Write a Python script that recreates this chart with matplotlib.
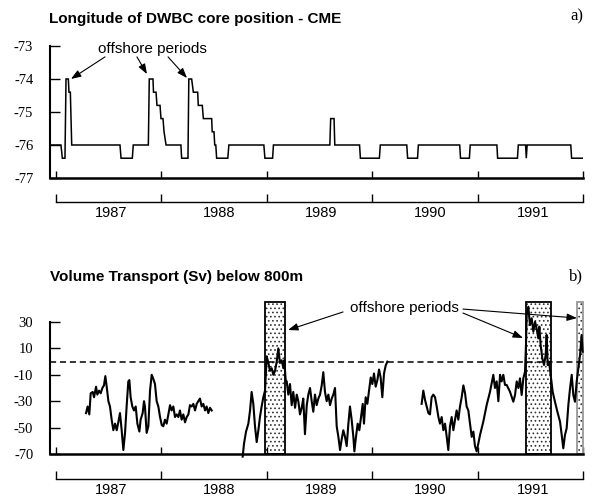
import matplotlib
matplotlib.use('Agg')
import matplotlib.pyplot as plt
import numpy as np
from matplotlib.patches import Rectangle

plt.rcParams['axes.unicode_minus'] = False
plt.rcParams['hatch.linewidth'] = 0.7

# ---------------- data ----------------
year_edges = [1987, 1988, 1989, 1990, 1991, 1992]
year_mid = [1987.52, 1988.55, 1989.52, 1990.55, 1991.53]
year_labels = ['1987', '1988', '1989', '1990', '1991']

lon_time = [1986.943, 1987.047, 1987.060, 1987.085, 1987.095, 1987.117, 1987.123, 1987.136,
            1987.149, 1987.607, 1987.617, 1987.724, 1987.733, 1987.876, 1987.885, 1987.920,
            1987.925, 1987.949, 1987.958, 1987.987, 1987.996, 1988.015, 1988.025, 1988.044,
            1988.185, 1988.192, 1988.252, 1988.260, 1988.287, 1988.303, 1988.344, 1988.350,
            1988.388, 1988.398, 1988.477, 1988.482, 1988.499, 1988.506, 1988.516, 1988.524,
            1988.630, 1988.640, 1988.972, 1988.982, 1989.055, 1989.063, 1989.598, 1989.606,
            1989.638, 1989.645, 1989.880, 1989.888, 1990.068, 1990.077, 1990.328, 1990.336,
            1990.430, 1990.438, 1990.830, 1990.838, 1990.922, 1990.930, 1991.183, 1991.190,
            1991.378, 1991.386, 1991.455, 1991.462, 1991.470, 1991.884, 1991.892, 1992.0]
lon_value = [-76.0, -76.0, -76.4, -76.4, -74.0, -74.0, -74.4, -74.4,
             -76.0, -76.0, -76.4, -76.4, -76.0, -76.0, -74.0, -74.0,
             -74.4, -74.4, -74.8, -74.8, -75.2, -75.2, -75.6, -76.0,
             -76.0, -76.4, -76.4, -74.0, -74.0, -74.4, -74.4, -74.8,
             -74.8, -75.2, -75.2, -75.6, -75.6, -76.0, -76.0, -76.4,
             -76.4, -76.0, -76.0, -76.4, -76.4, -76.0, -76.0, -75.2,
             -75.2, -76.0, -76.0, -76.4, -76.4, -76.0, -76.0, -76.4,
             -76.4, -76.0, -76.0, -76.4, -76.4, -76.0, -76.0, -76.4,
             -76.4, -76.0, -76.0, -76.4, -76.0, -76.0, -76.4, -76.4]

seg1_time = [1987.285, 1987.300, 1987.316, 1987.329, 1987.348, 1987.361, 1987.380, 1987.392,
             1987.408, 1987.424, 1987.440, 1987.455, 1987.468, 1987.481, 1987.497, 1987.512,
             1987.528, 1987.544, 1987.560, 1987.576, 1987.591, 1987.607, 1987.623, 1987.639,
             1987.655, 1987.670, 1987.686, 1987.696, 1987.708, 1987.724, 1987.740, 1987.756,
             1987.772, 1987.791, 1987.803, 1987.822, 1987.835, 1987.844, 1987.860, 1987.876,
             1987.892, 1987.908, 1987.923, 1987.939, 1987.955, 1987.971, 1987.987, 1988.003,
             1988.018, 1988.034, 1988.050, 1988.066, 1988.082, 1988.097, 1988.113, 1988.129,
             1988.145, 1988.161, 1988.176, 1988.192, 1988.208, 1988.224, 1988.240, 1988.256,
             1988.271, 1988.287, 1988.303, 1988.319, 1988.335, 1988.350, 1988.366, 1988.382,
             1988.398, 1988.414, 1988.429, 1988.445, 1988.461, 1988.477]
seg1_sv = [-39, -34, -40, -24, -23, -27, -19, -25, -22, -24,
           -20, -18, -11, -19, -30, -34, -44, -52, -47, -52,
           -46, -39, -52, -67, -54, -34, -15, -14, -27, -34,
           -37, -34, -47, -53, -44, -39, -30, -34, -54, -49,
           -22, -10, -13, -17, -30, -34, -42, -48, -49, -44,
           -47, -40, -33, -37, -34, -42, -40, -42, -37, -44,
           -40, -46, -42, -40, -33, -34, -32, -37, -32, -30,
           -28, -34, -32, -37, -34, -39, -35, -37]

seg2_time = [1988.771, 1988.784, 1988.803, 1988.825, 1988.841, 1988.856, 1988.872, 1988.888,
             1988.904, 1988.920, 1988.935, 1988.951, 1988.967, 1988.983, 1988.999, 1989.015,
             1989.030, 1989.046, 1989.062, 1989.078, 1989.094, 1989.109, 1989.125, 1989.141,
             1989.157, 1989.166, 1989.179,
             1989.189, 1989.204, 1989.220, 1989.236, 1989.251, 1989.268, 1989.284, 1989.299,
             1989.315, 1989.331, 1989.346, 1989.362, 1989.379, 1989.394, 1989.410, 1989.426,
             1989.441, 1989.457, 1989.473, 1989.489, 1989.505, 1989.521, 1989.536, 1989.552,
             1989.568, 1989.584, 1989.600, 1989.616, 1989.631, 1989.647,
             1989.663, 1989.679, 1989.695, 1989.710, 1989.726, 1989.742, 1989.758, 1989.774,
             1989.789, 1989.805, 1989.821, 1989.831, 1989.846, 1989.862, 1989.878, 1989.894,
             1989.910, 1989.922, 1989.938, 1989.954, 1989.970, 1989.986, 1990.001, 1990.017,
             1990.033, 1990.049, 1990.065, 1990.080, 1990.096, 1990.112, 1990.128, 1990.144]
seg2_sv = [-72, -62, -53, -47, -37, -23, -32, -49, -61, -52, -42, -34, -27, -22, 4, -1,
           -7, -5, -10, -7, 0, 10, -1, 1, -5, 1, -14,
           -15, -25, -17, -33, -23, -35, -25, -30, -40, -35, -28, -55, -33, -25, -20,
           -30, -38, -25, -33, -28, -25, -18, -8, -23, -30, -25, -33, -28, -25, -20,
           -49, -57, -67, -59, -52, -57, -64, -47, -34, -44, -57, -68, -57, -47, -52, -42,
           -32, -47, -27, -32, -22, -12, -17, -9, -19, -14, -6, -12, -27, -9, -3, 0]

seg3_time = [1990.469, 1990.485, 1990.501, 1990.517, 1990.533, 1990.548, 1990.564, 1990.580,
             1990.596, 1990.612, 1990.628, 1990.643, 1990.659, 1990.675, 1990.691, 1990.707,
             1990.722, 1990.738, 1990.754, 1990.770, 1990.786, 1990.801, 1990.817, 1990.833,
             1990.849, 1990.865, 1990.881, 1990.896, 1990.912, 1990.928, 1990.944, 1990.960,
             1990.975, 1990.991, 1991.007,
             1991.023, 1991.054, 1991.086, 1991.118, 1991.149, 1991.165, 1991.181, 1991.197,
             1991.213, 1991.228, 1991.244, 1991.260, 1991.276, 1991.307, 1991.339, 1991.355,
             1991.371, 1991.387, 1991.402, 1991.418, 1991.434, 1991.450, 1991.459, 1991.466,
             1991.481, 1991.497, 1991.513, 1991.529, 1991.545, 1991.560, 1991.576, 1991.586,
             1991.598, 1991.614, 1991.630, 1991.646, 1991.655, 1991.665, 1991.677, 1991.693,
             1991.712, 1991.734, 1991.757, 1991.782, 1991.798, 1991.813, 1991.829, 1991.845,
             1991.861, 1991.877, 1991.893, 1991.908, 1991.924, 1991.940, 1991.956, 1991.972,
             1991.987, 1991.997]
seg3_sv = [-32, -22, -29, -34, -39, -40, -27, -25, -27, -34, -42, -47, -42, -52, -47, -57,
           -67, -49, -42, -52, -44, -37, -44, -34, -27, -18, -24, -34, -37, -47, -57, -53,
           -64, -68, -62,
           -55.6, -45.5, -32.9, -22.8, -10, -20, -15, -30, -10, -15, -10, -17.7, -17.7, -22.8,
           -30.4, -25.3, -15, -20, -12.7, -25.3, -12.7, -7.6, 12.6, 35.3, 41.6, 27.7, 32.8,
           22.7, 30.2, 25.2, 17.6, 26.5, 12.6, 2.5, -2.6, 5, 20.2, -2.6, 0, -10,
           -22.8, -30.4, -38, -45.5, -55.6, -65.7, -55.6, -50.5, -32.9, -20.2, -10, -25.3,
           -30.4, -15.2, -5, 5, 20.2, 7.5]

offshore_start = [1988.983, 1991.459, 1991.940]
offshore_end = [1989.173, 1991.693, 1992.0]
offshore_edge = ['black', 'black', '#999999']

lon_ticks = [-73, -74, -75, -76, -77]
sv_ticks = [30, 10, -10, -30, -50, -70]

# ---------------- layout ----------------
W, H = 594, 498
fig = plt.figure(figsize=(W / 100, H / 100), dpi=100)
fig.patch.set_facecolor('white')


def rect(l, t, r, b):
    return [l / W, 1 - b / H, (r - l) / W, (b - t) / H]


axA = fig.add_axes(rect(50, 46, 583, 178))
axB = fig.add_axes(rect(50, 322, 583, 454))
XMIN, XMAX = 1986.943, 1992.0

SANS = 'Liberation Sans'
SERIF = 'Liberation Serif'

for ax, off in ((axA, -24 / 132), (axB, -25 / 132)):
    ax.spines['top'].set_visible(False)
    ax.spines['right'].set_visible(False)
    ax.spines['left'].set_linewidth(1.5)
    ax.spines['bottom'].set_linewidth(1.8)
    ax.set_xlim(XMIN, XMAX)
    ax.set_xticks(year_edges)
    ax.tick_params(axis='x', direction='in', length=5, width=1, labelbottom=False)
    ax.tick_params(axis='y', direction='in', length=7, width=1, pad=12,
                   labelsize=10.5, labelfontfamily=SERIF)
    ax.patch.set_alpha(0)
    sec = ax.secondary_xaxis(off)
    sec.set_xticks(year_edges)
    sec.set_xticks(year_mid, labels=year_labels, minor=True)
    sec.tick_params(which='major', direction='in', length=6, width=1, labelbottom=False)
    sec.tick_params(which='minor', length=0, pad=3, labelsize=10.5, labelfontfamily=SANS)
    sec.spines['bottom'].set_bounds(1987, 1992)
    sec.spines['bottom'].set_linewidth(1.0)

# ---- panel a ----
axA.set_ylim(-77, -73)
axA.set_yticks(lon_ticks)
axA.plot(lon_time, lon_value, color='black', lw=1.1, solid_joinstyle='miter')
axA.text(1987.911, -73.09, 'offshore periods', ha='center', va='center',
         fontsize=11, family=SANS)
arrow_kw = dict(arrowstyle='-|>,head_length=0.6,head_width=0.22', lw=0.8, color='black',
                shrinkA=0, shrinkB=0, mutation_scale=10)
for tail, head in [((1987.465, -73.33), (1987.142, -74.0)),
                   ((1987.768, -73.33), (1987.863, -73.85)),
                   ((1988.063, -73.33), (1988.243, -73.97))]:
    axA.annotate('', xy=head, xytext=tail, arrowprops=arrow_kw)

fig.text(49 / W, 1 - 19 / H, 'Longitude of DWBC core position - CME', ha='left',
         va='center', fontsize=11, fontweight='bold', family=SANS)
fig.text(583 / W, 1 - 16 / H, 'a)', ha='right', va='center', fontsize=12, family=SERIF)

# ---- panel b ----
axB.set_ylim(-70, 30)
axB.set_yticks(sv_ticks)
for s, e, ec in zip(offshore_start, offshore_end, offshore_edge):
    axB.add_patch(Rectangle((s, -70), e - s, 115, facecolor='white', edgecolor='#333333',
                            hatch='....', lw=0, clip_on=False, zorder=1))
    axB.add_patch(Rectangle((s, -70), e - s, 115, facecolor='none', edgecolor=ec,
                            lw=1.3, clip_on=False, zorder=2))
axB.axhline(0, color='black', lw=1.1, ls=(0, (4, 2.5)), zorder=2)
for t, v in ((seg1_time, seg1_sv), (seg2_time, seg2_sv), (seg3_time, seg3_sv)):
    axB.plot(t, v, color='black', lw=1.5, clip_on=False, zorder=3)

axB.text(1990.302, 40.6, 'offshore periods', ha='center', va='center',
         fontsize=11, family=SANS)
for tail, head in [((1989.723, 37.6), (1989.201, 23.9)),
                   ((1990.861, 36.8), (1991.431, 17.9)),
                   ((1990.861, 39.8), (1991.943, 33.0))]:
    axB.annotate('', xy=head, xytext=tail, arrowprops=arrow_kw, annotation_clip=False)

fig.text(50 / W, 1 - 277 / H, 'Volume Transport (Sv) below 800m', ha='left',
         va='center', fontsize=11, fontweight='bold', family=SANS)
fig.text(583 / W, 1 - 276 / H, 'b)', ha='right', va='center', fontsize=12, family=SERIF)

fig.savefig('out.png', dpi=100)
